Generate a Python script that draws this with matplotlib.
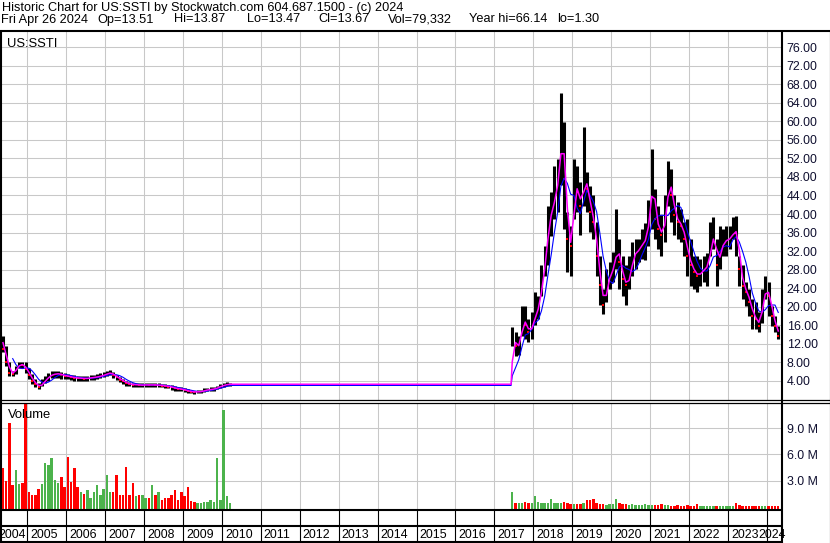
import numpy as np
import pandas as pd
import matplotlib
matplotlib.use("Agg")
import matplotlib.pyplot as plt
from matplotlib.lines import Line2D

plt.rcParams['font.family'] = ['Liberation Sans', 'DejaVu Sans']

W, H = 830, 543

# monthly bars, Apr 2004 - Mar 2010
early_start = "2004-04"
early_close = [13.5, 11.0, 8.2, 5.8, 5.6, 6.9, 7.6, 7.5, 6.5,
               5.3, 4.0, 3.3, 2.7, 3.5, 4.3, 5.0, 5.4, 5.5, 5.6, 5.3, 5.1,
               5.0, 4.8, 4.7, 4.6, 4.6, 4.5, 4.6, 4.7, 4.8, 4.9, 5.1, 5.3,
               5.6, 5.8, 5.2, 4.8, 4.3, 3.9, 3.5, 3.3, 3.2, 3.2, 3.1, 3.1,
               3.2, 3.1, 3.2, 3.1, 3.1, 3.0, 2.9, 2.8, 2.6, 2.4, 2.3, 2.2,
               2.0, 1.8, 1.7, 1.6, 1.7, 1.7, 2.0, 2.1, 2.2, 2.3, 2.6, 2.9,
               3.1, 3.3, 3.3]
early_high = [14.5, 13.8, 11.6, 8.0, 6.2, 7.3, 8.1, 8.1, 8.0,
              6.9, 5.5, 4.4, 3.6, 4.4, 5.1, 5.8, 6.2, 6.2, 6.2, 6.0, 5.8,
              5.6, 5.3, 5.2, 5.1, 5.1, 5.0, 5.1, 5.2, 5.3, 5.4, 5.7, 5.9,
              6.1, 6.3, 5.9, 5.3, 4.8, 4.4, 4.0, 3.7, 3.6, 3.6, 3.5, 3.5,
              3.6, 3.5, 3.6, 3.5, 3.5, 3.4, 3.3, 3.2, 3.1, 2.9, 2.7, 2.6,
              2.4, 2.2, 2.0, 1.9, 2.0, 2.0, 2.4, 2.5, 2.6, 2.7, 3.0, 3.3,
              3.5, 3.7, 3.6]
early_low = [12.0, 10.2, 7.3, 5.1, 5.1, 5.5, 6.9, 6.9, 5.8,
             4.4, 3.3, 2.6, 2.2, 2.9, 3.6, 4.0, 4.7, 4.7, 4.7, 4.5, 4.5,
             4.4, 4.3, 4.1, 4.0, 4.1, 4.0, 4.1, 4.2, 4.3, 4.4, 4.6, 4.8,
             5.0, 5.2, 4.7, 4.3, 3.8, 3.4, 3.0, 2.9, 2.8, 2.8, 2.7, 2.7,
             2.8, 2.7, 2.8, 2.7, 2.7, 2.6, 2.5, 2.4, 2.1, 1.9, 1.9, 1.8,
             1.7, 1.5, 1.4, 1.3, 1.4, 1.4, 1.7, 1.8, 1.8, 1.9, 2.2, 2.5,
             2.7, 2.9, 3.0]
early_vol = [6.5, 4.5, 3.0, 9.6, 2.5, 4.2, 2.6, 2.7, 12.5,
             1.7, 1.4, 1.4, 2.1, 2.6, 5.0, 4.8, 5.6, 3.1, 2.7, 3.4, 2.3,
             5.7, 2.9, 4.4, 2.3, 1.7, 1.5, 1.9, 1.0, 1.7, 2.5, 1.4, 2.1,
             3.7, 1.7, 1.7, 3.6, 1.4, 1.4, 4.6, 1.4, 2.7, 1.2, 1.4, 1.4,
             1.0, 1.0, 2.5, 1.4, 1.7, 0.8, 1.0, 1.0, 1.4, 1.9, 0.8, 1.7,
             1.2, 2.3, 0.7, 0.6, 0.4, 0.5, 0.6, 0.6, 0.8, 0.6, 5.6, 0.8,
             11.1, 1.2, 0.4]

# monthly bars, Jun 2017 - Apr 2024
late_start = "2017-06"
late_close = [13.0, 11.6, 11.6, 17.4, 16.0, 14.5, 16.0,
              18.8, 20.2, 26.0, 30.3, 39.0, 40.4, 44.7, 47.6, 58.4, 47.6, 34.6, 33.2,
              46.2, 44.7, 41.8, 47.6, 45.4, 40.4, 38.2, 31.0, 24.6, 20.3, 24.6, 27.4,
              28.2, 33.2, 29.6, 26.0, 24.6, 26.7, 31.0, 31.8, 32.5, 33.9, 34.6, 40.0,
              47.6, 38.9, 36.8, 35.4, 39.7, 47.6, 44.0, 39.7, 38.2, 37.5, 34.6, 31.0,
              28.9, 27.4, 26.7, 27.4, 28.2, 28.9, 33.2, 36.0, 28.9, 32.5, 33.9, 34.6,
              34.6, 36.4, 36.0, 28.2, 24.5, 23.1, 21.0, 18.1, 17.4, 15.9, 21.7, 23.8,
              22.4, 18.1, 15.9, 13.67]
late_high = [15.6, 14.5, 13.8, 20.2, 20.2, 17.4, 18.8,
             23.1, 22.4, 28.9, 33.2, 41.8, 44.7, 50.4, 51.9, 66.1, 59.8, 40.4, 37.5,
             51.9, 50.4, 46.9, 58.7, 49.0, 46.1, 44.0, 38.2, 31.0, 23.8, 28.2, 29.6,
             31.8, 41.1, 34.6, 31.0, 28.9, 31.0, 33.9, 34.6, 34.6, 36.8, 38.0, 43.0,
             54.0, 45.4, 41.8, 39.7, 44.0, 51.5, 49.7, 44.0, 42.5, 41.1, 38.2, 38.9,
             34.6, 31.0, 31.0, 30.3, 31.0, 31.7, 38.2, 39.3, 34.6, 37.5, 36.8, 37.5,
             37.5, 39.3, 39.6, 31.0, 28.9, 25.3, 23.8, 21.7, 21.0, 18.8, 23.8, 26.7,
             25.3, 20.2, 18.1, 15.9]
late_low = [11.6, 9.4, 9.5, 13.8, 13.0, 12.3, 13.0,
            16.0, 17.4, 22.4, 26.7, 28.9, 35.3, 39.0, 40.4, 46.2, 36.8, 27.4, 26.7,
            39.0, 40.4, 35.4, 41.8, 40.4, 36.1, 34.6, 26.7, 20.3, 18.5, 21.0, 23.8,
            25.3, 28.2, 23.8, 22.4, 20.3, 23.8, 26.7, 28.2, 29.6, 30.3, 30.0, 33.0,
            36.8, 34.6, 32.5, 31.0, 33.9, 41.8, 38.2, 35.4, 34.6, 33.9, 31.0, 26.7,
            24.5, 23.8, 23.1, 24.5, 25.3, 24.5, 31.0, 32.5, 24.5, 28.1, 31.0, 31.0,
            32.5, 34.6, 31.0, 24.5, 21.7, 20.2, 18.1, 15.2, 15.2, 14.5, 16.6, 21.7,
            18.1, 15.9, 14.5, 13.0]
late_vol = [1.7, 0.5, 0.4, 0.5, 0.6, 0.4, 0.5,
            1.3, 0.6, 0.4, 0.4, 0.5, 0.9, 0.4, 0.5, 0.5, 0.6, 0.4, 0.3,
            0.3, 0.3, 0.3, 0.4, 0.8, 0.8, 0.9, 0.4, 0.3, 0.3, 0.2, 0.3,
            0.3, 0.9, 0.4, 0.3, 0.3, 0.2, 0.3, 0.2, 0.2, 0.2, 0.3, 0.2,
            0.2, 0.2, 0.2, 0.3, 0.2, 0.2, 0.15, 0.15, 0.2, 0.15, 0.15, 0.2,
            0.15, 0.15, 0.3, 0.15, 0.15, 0.15, 0.15, 0.15, 0.15, 0.15, 0.15, 0.15,
            0.15, 0.15, 0.4, 0.25, 0.15, 0.15, 0.15, 0.12, 0.12, 0.12, 0.12, 0.12,
            0.15, 0.15, 0.15, 0.1]

price_ticks = list(range(4, 77, 4))
vol_ticks = [3, 6, 9]
years = list(range(2004, 2025))

header1 = "Historic Chart for US:SSTI by Stockwatch.com 604.687.1500 - (c) 2024"
header2 = ["Fri Apr 26 2024", "Op=13.51", "Hi=13.87", "Lo=13.47", "Cl=13.67",
           "Vol=79,332", "Year hi=66.14", "lo=1.30"]
header2_x = [1, 97, 174, 247, 318, 388, 469, 557]


def month_pos(start, n):
    p = pd.period_range(start, periods=n, freq="M")
    return np.asarray(p.year + (p.month - 0.5) / 12.0)


x_e = month_pos(early_start, len(early_close))
x_l = month_pos(late_start, len(late_close))
x = np.concatenate([x_e, x_l])
close = np.concatenate([early_close, late_close])
high = np.concatenate([early_high, late_high])
low = np.concatenate([early_low, late_low])
vol = np.concatenate([early_vol, late_vol])

prev = np.concatenate([[close[0] + 1], close[:-1]])
down = close < prev

s = pd.Series(close)
ma_fast = s.rolling(2).mean().to_numpy()
ma_slow = s.rolling(5).mean().to_numpy()
# hold the last value across the gap in trading
n_e = len(x_e)
x_ma = np.insert(x, n_e, x_l[0] - 0.03)
fast_ma = np.insert(ma_fast, n_e, ma_fast[n_e - 1])
slow_ma = np.insert(ma_slow, n_e, ma_slow[n_e - 1])

# pixel layout
X0, X1 = 1.0, 781.5
YR0, PX_YR = 2005, (766.9 - 27.3) / 19


def yr_px(y):
    return 27.3 + (y - YR0) * PX_YR


def px_rect(x0, y0, x1, y1):
    return [x0 / W, 1 - y1 / H, (x1 - x0) / W, (y1 - y0) / H]


fig = plt.figure(figsize=(W / 100, H / 100), dpi=100)
fig.patch.set_facecolor("white")

xlim = (YR0 + (X0 - 27.3) / PX_YR, YR0 + (X1 - 27.3) / PX_YR)
grid_c = "#c8c8c8"
lab_c = "#101030"

ax = fig.add_axes(px_rect(X0, 31.5, X1, 400))
ax.set_xlim(*xlim)
ax.set_ylim(-0.1, 79.35)
ax.set_xticks(years[1:])
ax.set_yticks(price_ticks)
ax.set_yticklabels(["%.2f" % v for v in price_ticks])
ax.yaxis.tick_right()
ax.tick_params(axis="x", length=0, labelbottom=False)
ax.tick_params(axis="y", length=0, pad=3.8, labelsize=8.9, labelcolor=lab_c)
ax.grid(True, color=grid_c, lw=0.75)
ax.set_axisbelow(True)
for sp in ax.spines.values():
    sp.set_visible(False)

ax.vlines(x, low, high, color="black", lw=2.2)
ax.plot(x[down], close[down], "s", color="#ff0000", ms=2.0, mew=0)
ax.plot(x_ma, slow_ma, color="#0000ff", lw=0.8)
ax.plot(x_ma, fast_ma, color="#ff00ff", lw=1.1)
ax.text(7 / W, 1 - 47.5 / H, "US:SSTI", transform=fig.transFigure,
        fontsize=9.4, color="black", va="baseline")

axv = fig.add_axes(px_rect(X0, 403, X1, 509.5))
axv.set_xlim(*xlim)
axv.set_ylim(-0.285, 11.86)
axv.set_xticks(years[1:])
axv.set_yticks(vol_ticks)
axv.set_yticklabels(["%.1f M" % v for v in vol_ticks])
axv.yaxis.tick_right()
axv.tick_params(axis="x", length=0, labelbottom=False)
axv.tick_params(axis="y", length=0, pad=3.8, labelsize=8.9, labelcolor=lab_c)
axv.grid(True, color=grid_c, lw=0.75)
axv.set_axisbelow(True)
for sp in axv.spines.values():
    sp.set_visible(False)
vcol = np.where(down, "#ff0000", "#4cb34c")
axv.bar(x, vol + 0.285, bottom=-0.285, width=0.75 / 12, color=vcol, lw=0)
axv.text(8 / W, 1 - 417.5 / H, "Volume", transform=fig.transFigure,
         fontsize=9.4, color="black", va="baseline")


def fig_line(x0, y0, x1, y1, lw=1.0):
    fig.add_artist(Line2D([x0 / W, x1 / W], [1 - y0 / H, 1 - y1 / H],
                          transform=fig.transFigure, color="black", lw=lw,
                          solid_capstyle="butt"))


# frame
fig_line(0, 31, W, 31, 1.5)
fig_line(1, 31, 1, 542, 1.5)
fig_line(781.5, 31, 781.5, H, 1.5)
fig_line(829.5, 31, 829.5, H, 0.8)
fig_line(0, 400.3, W, 400.3, 0.9)
fig_line(0, 402.6, W, 402.6, 0.9)
fig_line(0, 509.8, 781.5, 509.8, 1.5)
fig_line(0, 526.2, 781.5, 526.2, 1.5)
fig_line(0, 541.8, 781.5, 541.8, 1.5)
for yr in years[1:]:
    fig_line(yr_px(yr), 510, yr_px(yr), 541.5, 0.8)

# year labels
for yr in years:
    if yr == years[0]:
        xp, ha = yr_px(yr + 1) - 1.5, "right"
    elif yr == years[-1]:
        xp, ha = 786, "right"
    else:
        xp, ha = yr_px(yr) + 3, "left"
    fig.text(xp / W, 1 - 538.5 / H, str(yr), fontsize=8.9, ha=ha,
             va="baseline", color="black")

fig.text(2 / W, 1 - 10.5 / H, header1, fontsize=9.2, va="baseline")
for txt, xp in zip(header2, header2_x):
    fig.text(xp / W, 1 - 22.5 / H, txt, fontsize=9.2, va="baseline")

fig.savefig("out.png", dpi=100, facecolor="white")
